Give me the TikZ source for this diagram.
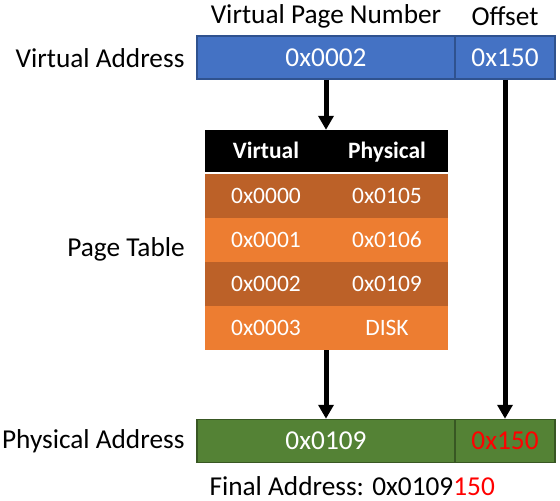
\documentclass[tikz,border=0pt]{standalone}
\usepackage{fontspec}
\setmainfont{Carlito}
\usetikzlibrary{arrows.meta,positioning}
\definecolor{vblue}{HTML}{4472C4}
\definecolor{vblueedge}{HTML}{2F528F}
\definecolor{pgreen}{HTML}{548235}
\definecolor{pgreenedge}{HTML}{385723}
\definecolor{rowdark}{HTML}{BC6128}
\definecolor{rowlight}{HTML}{ED7D31}

\begin{document}
\begin{tikzpicture}[x=1pt, y=-1pt, font=\fontsize{27.3}{32}\selectfont,
    field/.style={rectangle, draw, line width=1.5pt, text=white, inner sep=0pt, minimum height=43pt},
    row/.style={rectangle, inner sep=0pt, minimum width=243pt, minimum height=44pt},
    cell/.style={text=white, font=\fontsize{23.5}{28}\selectfont, text height=16pt, text depth=1pt},
    ptr/.style={-{Triangle[width=15pt,length=14pt]}, line width=5pt}]
    \useasboundingbox (0,0) rectangle (560,501);

    % virtual address
    \node[field, fill=vblue, draw=vblueedge, minimum width=258pt] (vpn) at (326,57.5) {0x0002};
    \node[field, fill=vblue, draw=vblueedge, minimum width=100pt] (voff) at (505,57.5) {0x150};
    \node (vpnlabel) at (326,16) {Virtual Page Number};
    \node (offlabel) at (505,16) {Offset};
    \node[anchor=east] (valabel) at (188,58) {Virtual Address};

    % page table
    \node[row, fill=black, minimum height=42pt] (head) at (326.5,151) {};
    \node[row, fill=rowdark] (r1) at (326.5,196) {};
    \node[row, fill=rowlight] (r2) at (326.5,240) {};
    \node[row, fill=rowdark] (r3) at (326.5,284) {};
    \node[row, fill=rowlight] (r4) at (326.5,328) {};
    \node[cell] (hv) at (266,151) {\textbf{Virtual}};
    \node[cell] (hp) at (387,151) {\textbf{Physical}};
    \node[cell] (v1) at (266,196) {0x0000};
    \node[cell] (p1) at (387,196) {0x0105};
    \node[cell] (v2) at (266,240) {0x0001};
    \node[cell] (p2) at (387,240) {0x0106};
    \node[cell] (v3) at (266,284) {0x0002};
    \node[cell] (p3) at (387,284) {0x0109};
    \node[cell] (v4) at (266,328) {0x0003};
    \node[cell] (p4) at (387,328) {DISK};
    \node (ptlabel) at (126,249) {Page Table};

    % physical address
    \node[field, fill=pgreen, draw=pgreenedge, minimum width=258pt] (ppn) at (326,441) {0x0109};
    \node[field, fill=pgreen, draw=pgreenedge, minimum width=100pt, text=red] (poff) at (505,441) {0x150};
    \node[anchor=east] (palabel) at (188,441) {Physical Address};
    \node[anchor=west] (final) at (206,486) {Final Address: 0x0109\textcolor{red}{150}};

    \draw[ptr] (vpn.south) -- (vpn.south |- head.north);
    \draw[ptr] (ppn.north |- r4.south) -- (ppn.north);
    \draw[ptr] (voff.south) -- (poff.north);
\end{tikzpicture}
\end{document}
